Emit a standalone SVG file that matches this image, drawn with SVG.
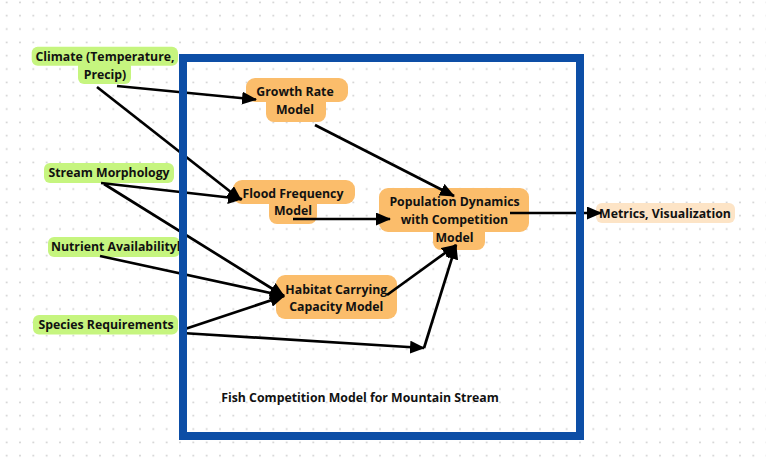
<svg xmlns="http://www.w3.org/2000/svg" width="766" height="460" viewBox="0 0 766 460">
<defs>
<pattern id="dots" x="0" y="0" width="13.333" height="13.333" patternUnits="userSpaceOnUse">
<circle cx="6.67" cy="2.33" r="0.9" fill="#cccccc"/>
</pattern>
<marker id="ah" markerWidth="15" markerHeight="13" refX="14" refY="6.5" orient="auto" markerUnits="userSpaceOnUse">
<path d="M0,0 L15,6.5 L0,13 Z" fill="#000"/>
</marker>
<style>
.t{font-family:"Open Sans","Noto Sans","Liberation Sans",sans-serif;font-weight:bold;font-size:12.3px;fill:#111;text-anchor:middle}
.g{fill:#c6f57f}
.o{fill:#fbbd6b}
.m{fill:#fde4c6}
.e{stroke:#000;stroke-width:2.7;fill:none;marker-end:url(#ah)}
</style>
</defs>
<rect width="766" height="460" fill="#fff"/>
<rect width="766" height="460" fill="url(#dots)"/>

<g id="climate">
<rect class="g" x="31.7" y="46.7" width="146.3" height="19" rx="6"/>
<rect class="g" x="78" y="60" width="53" height="24" rx="6"/>
<text class="t" x="105" y="61">Climate (Temperature,</text>
<text class="t" x="105" y="79">Precip)</text>
</g>
<g id="stream">
<rect class="g" x="44" y="163" width="130" height="20" rx="6"/>
<text class="t" x="109" y="177">Stream Morphology</text>
</g>
<g id="nutrient">
<rect class="g" x="48" y="237" width="132" height="20" rx="6"/>
<text class="t" x="115.7" y="251">Nutrient Availabilityl</text>
</g>
<g id="species">
<rect class="g" x="33" y="315" width="145" height="19.5" rx="6"/>
<text class="t" x="106" y="329">Species Requirements</text>
</g>
<g id="growth">
<rect class="o" x="246" y="78" width="102" height="24" rx="9"/>
<rect class="o" x="266" y="94" width="60" height="28" rx="8"/>
<text class="t" x="295" y="96">Growth Rate</text>
<text class="t" x="295" y="113.5">Model</text>
</g>
<g id="flood">
<rect class="o" x="233" y="180" width="122" height="24" rx="9"/>
<rect class="o" x="269" y="196" width="48" height="28" rx="8"/>
<text class="t" x="293" y="197.5">Flood Frequency</text>
<text class="t" x="293" y="215">Model</text>
</g>
<g id="habitat">
<rect class="o" x="276" y="275" width="121" height="44" rx="9"/>
<text class="t" x="336.3" y="293.5">Habitat Carrying</text>
<text class="t" x="336.3" y="310.5">Capacity Model</text>
</g>
<g id="population">
<rect class="o" x="379" y="188" width="150" height="44" rx="9"/>
<rect class="o" x="433" y="222" width="52" height="28" rx="8"/>
<text class="t" x="454.5" y="206">Population Dynamics</text>
<text class="t" x="454.5" y="223.5">with Competition</text>
<text class="t" x="454.5" y="241.5">Model</text>
</g>
<g id="metrics">
<rect class="m" x="596" y="203" width="139" height="20" rx="6"/>
<text class="t" x="665" y="218">Metrics, Visualization</text>
</g>

<g id="connectors">
<line class="e" x1="117" y1="86" x2="256" y2="99.5"/>
<line class="e" x1="97" y1="87" x2="241" y2="200"/>
<line class="e" x1="101" y1="183" x2="242" y2="199"/>
<line class="e" x1="104" y1="184" x2="284" y2="296"/>
<line class="e" x1="100" y1="256" x2="284" y2="296"/>
<line class="e" x1="185" y1="329" x2="284" y2="296"/>
<line class="e" x1="182" y1="333" x2="424" y2="348"/>
<line class="e" x1="424" y1="348" x2="456" y2="245"/>
<line class="e" x1="387" y1="295" x2="456" y2="245"/>
<line class="e" x1="315" y1="125" x2="454" y2="196"/>
<line class="e" x1="293" y1="219" x2="390" y2="219"/>
<line class="e" x1="510" y1="213" x2="601" y2="213"/>
</g>

<g id="frame">
<rect x="183" y="58" width="397" height="378" fill="none" stroke="#0d4ea6" stroke-width="8"/>
<text class="t" x="360" y="401.5">Fish Competition Model for Mountain Stream</text>
</g>
</svg>
